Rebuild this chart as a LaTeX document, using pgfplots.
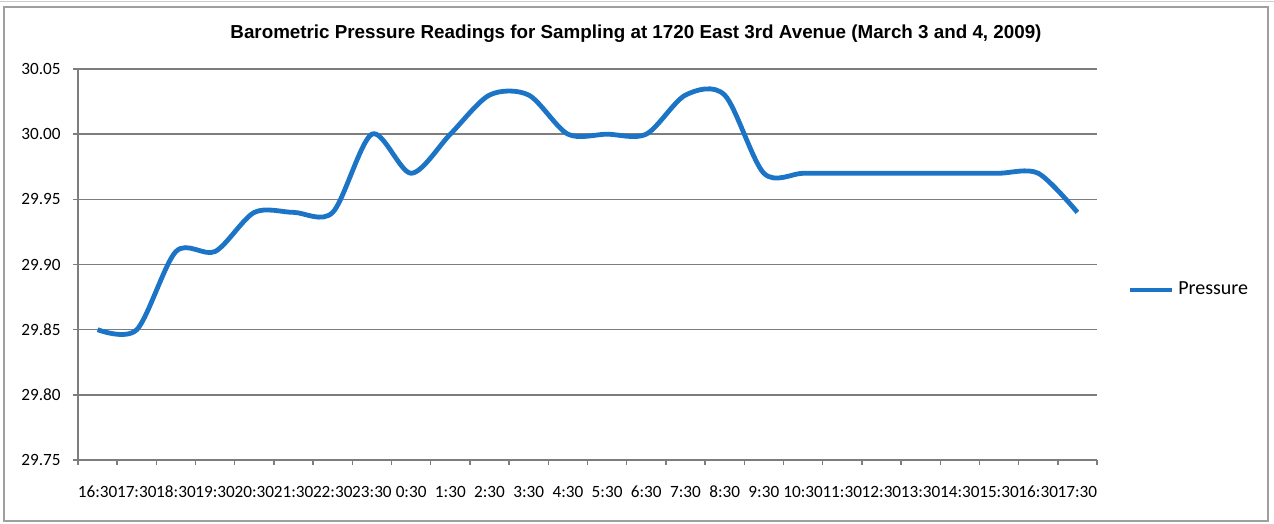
\documentclass[border=0pt]{standalone}
\usepackage{fontspec}
\setmainfont{Carlito}
\newfontfamily\titlefont{Liberation Sans}
\usepackage{pgfplots}
\pgfplotsset{compat=1.18}
\definecolor{lineblue}{RGB}{28,116,198}
\definecolor{gridgray}{RGB}{125,125,125}
\begin{document}
\begin{tikzpicture}
\useasboundingbox (0,0) rectangle (637pt,262pt);
\draw[gray!40, line width=0.5pt] (0pt,261pt) -- (637pt,261pt);
\draw[gray!75, line width=0.8pt] (2pt,1.5pt) rectangle (634pt,258.5pt);
\node[font=\titlefont\bfseries\fontsize{9.4}{11}\selectfont] at (318pt,245pt) {Barometric Pressure Readings for Sampling at 1720 East 3rd Avenue (March 3 and 4, 2009)};
\begin{axis}[
  at={(39pt,32pt)}, anchor=south west,
  width=509.5pt, height=195.5pt, scale only axis,
  xmin=-0.5, xmax=25.5, ymin=29.75, ymax=30.05,
  axis x line*=bottom, axis y line*=left,
  axis line style={gridgray, line width=0.8pt, -},
  ytick={29.75,29.80,29.85,29.90,29.95,30.00,30.05},
  ymajorgrids, major grid style={gridgray, line width=0.7pt},
  tick align=outside,
  major tick length=2.5pt, minor tick length=2.5pt,
  major y tick style={gridgray, line width=0.7pt},
  major x tick style={draw=none},
  minor x tick style={gridgray, line width=0.7pt},
  xtick={0,...,25},
  minor xtick={-0.5,0.5,...,25.5},
  xticklabels={16:30,17:30,18:30,19:30,20:30,21:30,22:30,23:30,0:30,1:30,2:30,3:30,4:30,5:30,6:30,7:30,8:30,9:30,10:30,11:30,12:30,13:30,14:30,15:30,16:30,17:30},
  x tick label style={font=\fontsize{8.6}{10}\selectfont, yshift=-7pt},
  y tick label style={font=\fontsize{8.6}{10}\selectfont, xshift=-2.7pt},
  yticklabel style={/pgf/number format/.cd, fixed, fixed zerofill, precision=2, assume math mode=true},
  legend style={at={(1.024,0.435)}, anchor=west, draw=none, fill=none, font=\fontsize{10}{12}\selectfont},
  legend image code/.code={\draw[#1, line width=2.2pt] (0pt,0pt) -- (21pt,0pt);},
  clip=false,
]
\addplot[lineblue, line width=2.4pt, smooth, tension=0.5] coordinates {
(0,29.85) (1,29.85) (2,29.91) (3,29.91) (4,29.94) (5,29.94) (6,29.94) (7,30.00) (8,29.97) (9,30.00)
(10,30.03) (11,30.03) (12,30.00) (13,30.00) (14,30.00) (15,30.03) (16,30.03) (17,29.97) (18,29.97) (19,29.97)
(20,29.97) (21,29.97) (22,29.97) (23,29.97) (24,29.97) (25,29.94)
};
\addlegendentry{Pressure}
\end{axis}
\end{tikzpicture}
\end{document}
